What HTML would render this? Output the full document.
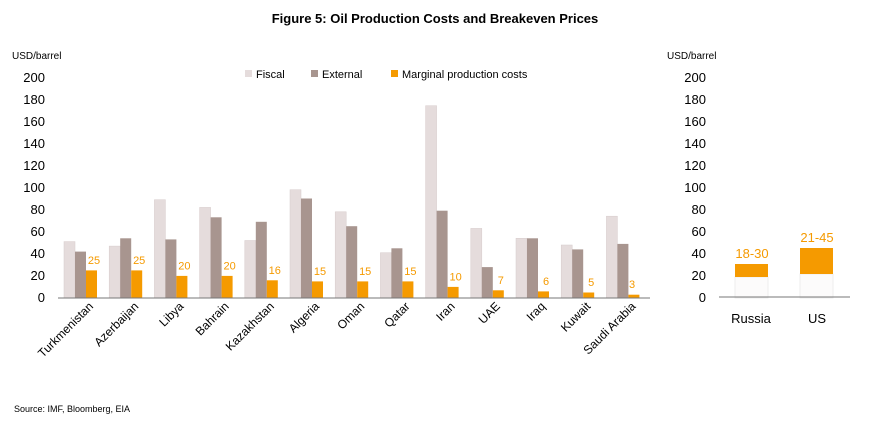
<!DOCTYPE html>
<html><head><meta charset="utf-8"><style>
body{margin:0;background:#fff;}
svg text{font-family:"Liberation Sans",sans-serif;}
.f{fill:#e5dcdc;stroke:#d6cbcb;stroke-width:0.5}
.e{fill:#a8958f}
.m{fill:#f59a00}
.ml{fill:#f59a00;font-size:11px;text-anchor:middle}
.xl{font-size:12px;text-anchor:end}
</style></head><body>
<svg width="870" height="426" viewBox="0 0 870 426" xmlns="http://www.w3.org/2000/svg">
<text x="435" y="23" text-anchor="middle" font-size="13" font-weight="bold" fill="#000">Figure 5: Oil Production Costs and Breakeven Prices</text>
<text x="12" y="59" font-size="10" fill="#000">USD/barrel</text>
<text x="667" y="59" font-size="10" fill="#000">USD/barrel</text>
<g font-size="13" fill="#000" text-anchor="end">
<text x="45" y="302">0</text><text x="45" y="280">20</text><text x="45" y="258">40</text><text x="45" y="236">60</text><text x="45" y="214">80</text><text x="45" y="192">100</text><text x="45" y="170">120</text><text x="45" y="148">140</text><text x="45" y="126">160</text><text x="45" y="104">180</text><text x="45" y="82">200</text>
</g>
<g font-size="13" fill="#000" text-anchor="end">
<text x="706" y="302">0</text><text x="706" y="280">20</text><text x="706" y="258">40</text><text x="706" y="236">60</text><text x="706" y="214">80</text><text x="706" y="192">100</text><text x="706" y="170">120</text><text x="706" y="148">140</text><text x="706" y="126">160</text><text x="706" y="104">180</text><text x="706" y="82">200</text>
</g>
<rect x="245" y="70" width="7" height="7" fill="#e5dcdc"/><text x="256" y="78" font-size="11">Fiscal</text>
<rect x="311" y="70" width="7" height="7" fill="#a8958f"/><text x="322" y="78" font-size="11">External</text>
<rect x="391" y="70" width="7" height="7" fill="#f59a00"/><text x="402" y="78" font-size="11">Marginal production costs</text>

<rect class="f" x="64" y="241.6" width="11" height="56.4"/><rect class="e" x="75" y="251.6" width="11" height="46.4"/><rect class="m" x="86" y="270.4" width="11" height="27.6"/>
<text class="ml" x="94" y="264">25</text><text class="xl" transform="translate(94,307) rotate(-45)">Turkmenistan</text>
<rect class="f" x="109.2" y="246.1" width="11" height="51.9"/><rect class="e" x="120.2" y="238.3" width="11" height="59.7"/><rect class="m" x="131.2" y="270.4" width="11" height="27.6"/>
<text class="ml" x="139.2" y="264">25</text><text class="xl" transform="translate(139.2,307) rotate(-45)">Azerbaijan</text>
<rect class="f" x="154.4" y="199.7" width="11" height="98.3"/><rect class="e" x="165.4" y="239.4" width="11" height="58.6"/><rect class="m" x="176.4" y="275.9" width="11" height="22.1"/>
<text class="ml" x="184.4" y="269.5">20</text><text class="xl" transform="translate(184.4,307) rotate(-45)">Libya</text>
<rect class="f" x="199.6" y="207.4" width="11" height="90.6"/><rect class="e" x="210.6" y="217.3" width="11" height="80.7"/><rect class="m" x="221.6" y="275.9" width="11" height="22.1"/>
<text class="ml" x="229.6" y="269.5">20</text><text class="xl" transform="translate(229.6,307) rotate(-45)">Bahrain</text>
<rect class="f" x="244.8" y="240.5" width="11" height="57.5"/><rect class="e" x="255.8" y="221.8" width="11" height="76.2"/><rect class="m" x="266.8" y="280.3" width="11" height="17.7"/>
<text class="ml" x="274.8" y="274">16</text><text class="xl" transform="translate(274.8,307) rotate(-45)">Kazakhstan</text>
<rect class="f" x="290" y="189.7" width="11" height="108.3"/><rect class="e" x="301" y="198.5" width="11" height="99.5"/><rect class="m" x="312" y="281.4" width="11" height="16.6"/>
<text class="ml" x="320" y="275">15</text><text class="xl" transform="translate(320,307) rotate(-45)">Algeria</text>
<rect class="f" x="335.2" y="211.8" width="11" height="86.2"/><rect class="e" x="346.2" y="226.2" width="11" height="71.8"/><rect class="m" x="357.2" y="281.4" width="11" height="16.6"/>
<text class="ml" x="365.2" y="275">15</text><text class="xl" transform="translate(365.2,307) rotate(-45)">Oman</text>
<rect class="f" x="380.4" y="252.7" width="11" height="45.3"/><rect class="e" x="391.4" y="248.3" width="11" height="49.7"/><rect class="m" x="402.4" y="281.4" width="11" height="16.6"/>
<text class="ml" x="410.4" y="275">15</text><text class="xl" transform="translate(410.4,307) rotate(-45)">Qatar</text>
<rect class="f" x="425.6" y="105.7" width="11" height="192.3"/><rect class="e" x="436.6" y="210.7" width="11" height="87.3"/><rect class="m" x="447.6" y="286.9" width="11" height="11.1"/>
<text class="ml" x="455.6" y="280.5">10</text><text class="xl" transform="translate(455.6,307) rotate(-45)">Iran</text>
<rect class="f" x="470.8" y="228.4" width="11" height="69.6"/><rect class="e" x="481.8" y="267.1" width="11" height="30.9"/><rect class="m" x="492.8" y="290.3" width="11" height="7.7"/>
<text class="ml" x="500.8" y="284">7</text><text class="xl" transform="translate(500.8,307) rotate(-45)">UAE</text>
<rect class="f" x="516" y="238.3" width="11" height="59.7"/><rect class="e" x="527" y="238.3" width="11" height="59.7"/><rect class="m" x="538" y="291.4" width="11" height="6.6"/>
<text class="ml" x="546" y="285">6</text><text class="xl" transform="translate(546,307) rotate(-45)">Iraq</text>
<rect class="f" x="561.2" y="245" width="11" height="53"/><rect class="e" x="572.2" y="249.4" width="11" height="48.6"/><rect class="m" x="583.2" y="292.5" width="11" height="5.5"/>
<text class="ml" x="591.2" y="286">5</text><text class="xl" transform="translate(591.2,307) rotate(-45)">Kuwait</text>
<rect class="f" x="606.4" y="216.2" width="11" height="81.8"/><rect class="e" x="617.4" y="243.9" width="11" height="54.1"/><rect class="m" x="628.4" y="294.7" width="11" height="3.3"/>
<text class="ml" x="632" y="288">3</text><text class="xl" transform="translate(636.4,307) rotate(-45)">Saudi Arabia</text>

<line x1="58" y1="298" x2="650" y2="298" stroke="#777" stroke-width="1"/>
<rect x="735" y="277" width="33" height="21" fill="#fcfbfb" stroke="#eee"/>
<rect x="735" y="264" width="33" height="13" fill="#f59a00"/>
<rect x="800" y="274" width="33" height="24" fill="#fcfbfb" stroke="#eee"/>
<rect x="800" y="248" width="33" height="26" fill="#f59a00"/>
<line x1="719" y1="297" x2="850" y2="297" stroke="#777"/>
<text x="752" y="258" text-anchor="middle" font-size="13" fill="#f59a00">18-30</text>
<text x="817" y="242" text-anchor="middle" font-size="13" fill="#f59a00">21-45</text>
<text x="751" y="323" text-anchor="middle" font-size="13">Russia</text>
<text x="817" y="323" text-anchor="middle" font-size="13">US</text>
<text x="14" y="412" font-size="9">Source: IMF, Bloomberg, EIA</text>
</svg>
</body></html>
